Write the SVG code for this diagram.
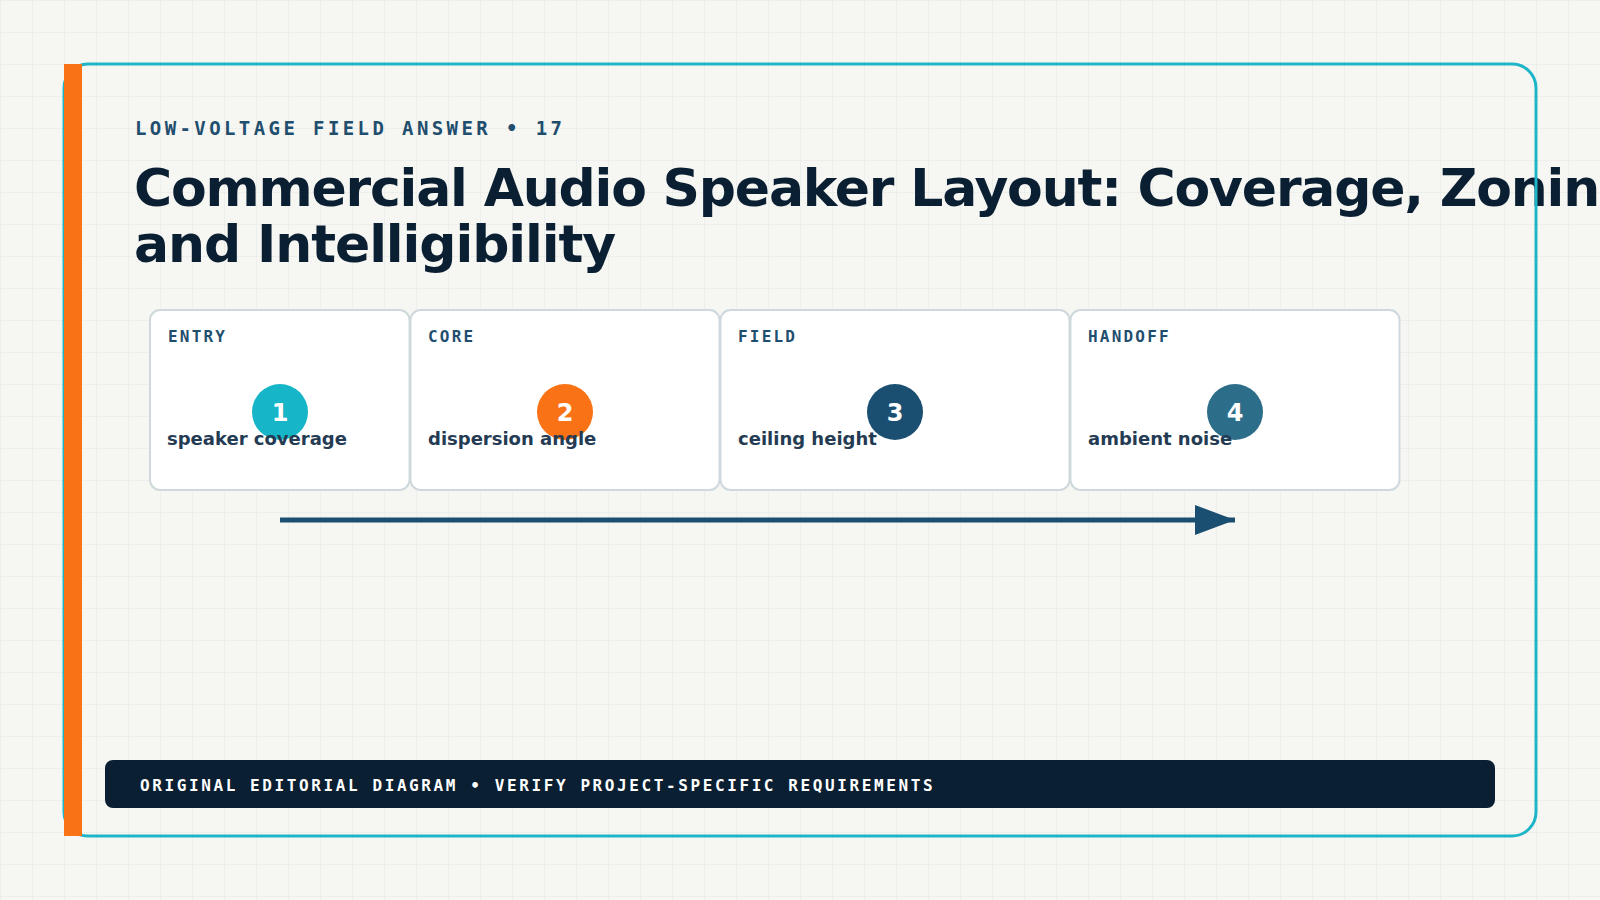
<svg xmlns="http://www.w3.org/2000/svg" width="1600" height="900" viewBox="0 0 1600 900">
  <defs>
    <pattern id="grid" x="0" y="0" width="32" height="32" patternUnits="userSpaceOnUse">
      <path d="M32 0 L0 0 L0 32" fill="none" stroke="#e3e8e5" stroke-width="1"/>
    </pattern>
    <marker id="arrow" viewBox="0 0 8 6" refX="8" refY="3" markerWidth="8" markerHeight="6" markerUnits="strokeWidth" orient="auto">
      <path d="M0 0 L8 3 L0 6 Z" fill="#1b4f72"/>
    </marker>
  </defs>
  <style>
    .mono { font-family: "DejaVu Sans Mono", "Liberation Mono", monospace; font-weight: bold; }
    .sans { font-family: "DejaVu Sans", "Liberation Sans", sans-serif; font-weight: bold; }
    .card { fill: #ffffff; stroke: #cfd9dd; stroke-width: 2; }
    .stage { font-size: 16px; letter-spacing: 2.2px; fill: #1f4e6e; }
    .label { font-size: 18px; fill: #243b53; }
    .num { font-size: 24px; fill: #ffffff; text-anchor: middle; }
  </style>

  <rect x="0" y="0" width="1600" height="900" fill="#f6f6f2"/>
  <rect x="0" y="0" width="1600" height="900" fill="url(#grid)"/>

  <g id="header">
    <text class="mono" x="135" y="135" font-size="19" letter-spacing="3.4" fill="#1f4e6e">LOW-VOLTAGE FIELD ANSWER • 17</text>
    <text class="sans" x="134" y="206" font-size="52" letter-spacing="-1.2" fill="#0b1f33">Commercial Audio Speaker Layout: Coverage, Zoning,</text>
    <text class="sans" x="134" y="262" font-size="52" letter-spacing="-1.1" fill="#0b1f33">and Intelligibility</text>
  </g>

  <g id="connectors">
    <line x1="280" y1="520" x2="1235" y2="520" stroke="#1b4f72" stroke-width="5" marker-end="url(#arrow)"/>
  </g>

  <g id="card-1">
    <rect class="card" x="150" y="310" width="259.5" height="180" rx="10"/>
    <circle cx="280" cy="412" r="28" fill="#17b5c8"/>
    <text class="sans num" x="280" y="420.5">1</text>
    <text class="mono stage" x="168" y="342">ENTRY</text>
    <text class="sans label" x="167" y="445">speaker coverage</text>
  </g>

  <g id="card-2">
    <rect class="card" x="410.5" y="310" width="309" height="180" rx="10"/>
    <circle cx="565" cy="412" r="28" fill="#f97316"/>
    <text class="sans num" x="565" y="420.5">2</text>
    <text class="mono stage" x="428" y="342">CORE</text>
    <text class="sans label" x="428" y="445">dispersion angle</text>
  </g>

  <g id="card-3">
    <rect class="card" x="720.5" y="310" width="349" height="180" rx="10"/>
    <circle cx="895" cy="412" r="28" fill="#1b4f72"/>
    <text class="sans num" x="895" y="420.5">3</text>
    <text class="mono stage" x="738" y="342">FIELD</text>
    <text class="sans label" x="738" y="445">ceiling height</text>
  </g>

  <g id="card-4">
    <rect class="card" x="1070.5" y="310" width="329" height="180" rx="10"/>
    <circle cx="1235" cy="412" r="28" fill="#2c6e8a"/>
    <text class="sans num" x="1235" y="420.5">4</text>
    <text class="mono stage" x="1088" y="342">HANDOFF</text>
    <text class="sans label" x="1088" y="445">ambient noise</text>
  </g>

  <g id="footer">
    <rect x="105" y="760" width="1390" height="48" rx="8" fill="#0b1f33"/>
    <text class="mono" x="140" y="790.5" font-size="16" letter-spacing="2.6" fill="#ffffff">ORIGINAL EDITORIAL DIAGRAM • VERIFY PROJECT-SPECIFIC REQUIREMENTS</text>
  </g>

  <g id="frame">
    <rect x="64" y="64" width="1472" height="772" rx="24" fill="none" stroke="#1fb5c8" stroke-width="3"/>
    <rect x="64" y="64" width="18" height="772" fill="#f97316"/>
  </g>
</svg>
